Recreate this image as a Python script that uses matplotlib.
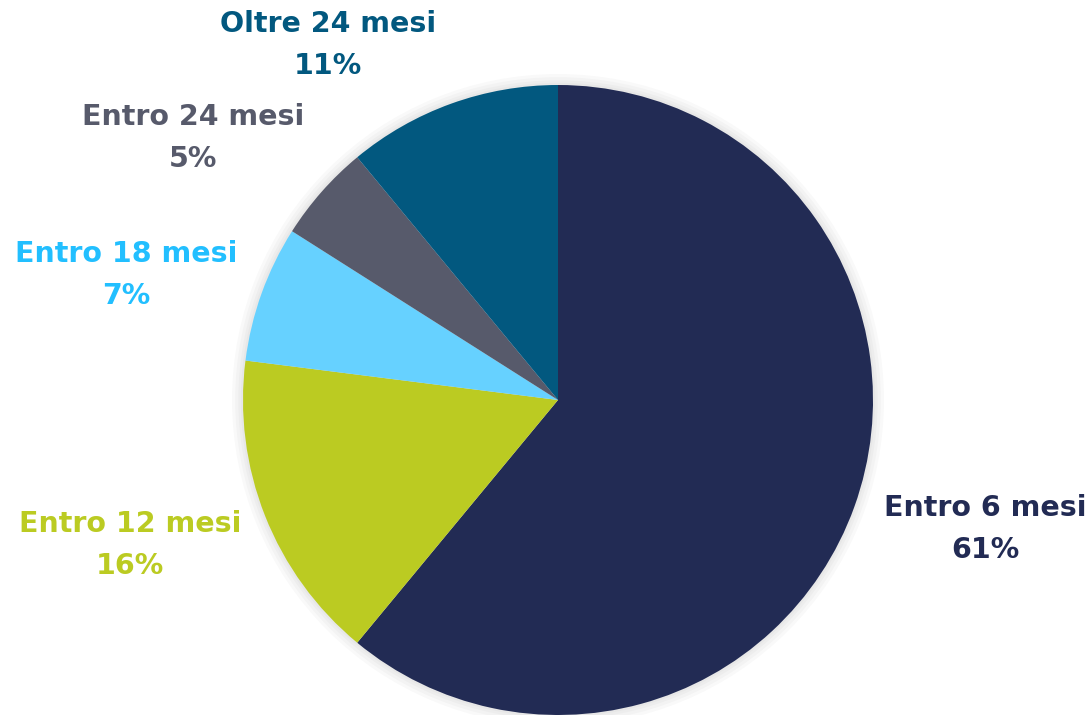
import matplotlib.pyplot as plt
from matplotlib.patches import Circle

# dati del grafico
categorie = ['Entro 6 mesi', 'Entro 12 mesi', 'Entro 18 mesi', 'Entro 24 mesi', 'Oltre 24 mesi']
valori = [61, 16, 7, 5, 11]
colori = ['#222B54', '#BBCB22', '#66D1FF', '#575A6B', '#02587F']
colori_testo = ['#222B54', '#BBCB22', '#22BFFF', '#575A6B', '#02587F']

# posizioni delle etichette (coordinate del grafico, raggio = 1)
pos_etichette = [(1.356, -0.41), (-1.359, -0.46), (-1.37, 0.397), (-1.159, 0.832), (-0.73, 1.127)]

fig = plt.figure(figsize=(10.9, 7.15), dpi=100)
ax = fig.add_axes([243 / 1090, 0, 630 / 1090, 630 / 715])

# ombra leggera attorno alla torta
for r in [1.035, 1.025, 1.015, 1.007]:
    ax.add_patch(Circle((0, 0), r, color='black', alpha=0.025, lw=0, clip_on=False))

ax.pie(valori, colors=colori, startangle=90, counterclock=False,
       wedgeprops=dict(linewidth=0))
ax.set_xlim(-1, 1)
ax.set_ylim(-1, 1)
ax.set_aspect('equal')
ax.axis('off')

for cat, val, col, (x, y) in zip(categorie, valori, colori_testo, pos_etichette):
    ax.text(x, y, f'{cat}\n{val}%', ha='center', va='center', color=col,
            fontsize=20.5, fontweight='bold', family='DejaVu Sans', linespacing=1.65,
            clip_on=False)

fig.savefig('out.png', dpi=100)
